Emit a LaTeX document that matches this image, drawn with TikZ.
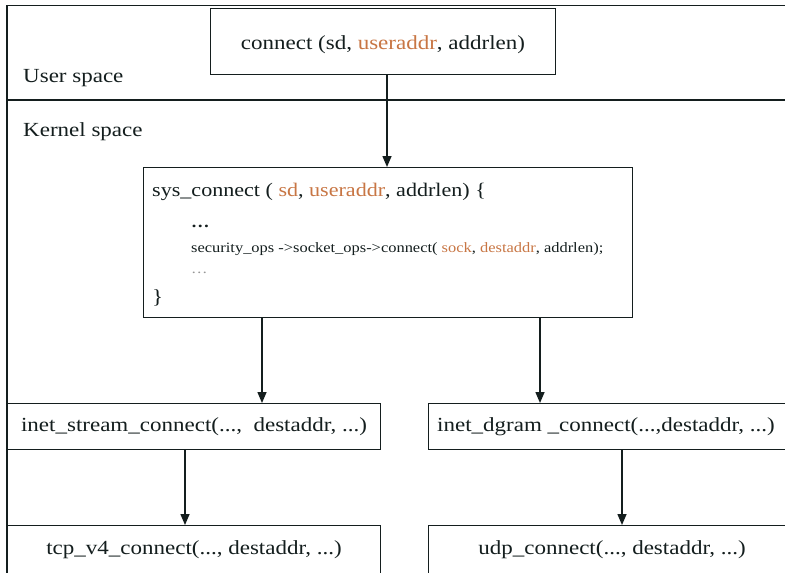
\documentclass[tikz,border=0pt]{standalone}
\usepackage{fontspec}
\setmainfont{Liberation Serif}
\newfontfamily\wf{Liberation Serif}[FakeStretch=1.15]
\usetikzlibrary{arrows.meta}
\definecolor{org}{RGB}{200,118,68}
\definecolor{ink}{RGB}{20,30,30}
\definecolor{dots}{RGB}{150,150,150}
\tikzset{
  box/.style={draw=ink, line width=1.1pt, rectangle, anchor=north west, inner sep=0pt,
    font=\wf\fontsize{20}{24}\selectfont, text=ink},
  lbl/.style={anchor=west, inner sep=0pt, font=\wf\fontsize{20}{24}\selectfont, text=ink},
  code/.style={anchor=west, inner sep=0pt, font=\wf\fontsize{14.3}{17}\selectfont, text=ink},
  arr/.style={draw=ink, line width=1.5pt, -{Triangle[length=11pt,width=9pt]}},
  frame/.style={draw=ink, line width=1.1pt},
  sep/.style={draw=ink, line width=2pt}
}
\begin{document}
\begin{tikzpicture}[x=1pt,y=-1pt]
\useasboundingbox (0,0) rectangle (785,573);
\clip (0,0) rectangle (785,573);
\fill[white] (0,0) rectangle (785,573);
% frame
\coordinate (ftl) at (7,5.5);
\coordinate (ftr) at (790,5.5);
\coordinate (fbl) at (7,580);
\draw[frame] (ftr) -- (ftl) -- (fbl);
\coordinate (sl) at (7,100);
\coordinate (sr) at (790,100);
\draw[sep] (sl) -- (sr);
% labels
\node[lbl] (user) at (23,78) {User space};
\node[lbl] (kern) at (23,132) {Kernel space};
% boxes
\node[box, minimum width=345pt, minimum height=66pt] (conn) at (210,8) {};
\node[font=\wf\fontsize{20}{24}\selectfont, text=ink, inner sep=0pt] (conntxt) at (383,45)
  {connect (sd, \textcolor{org}{useraddr}, addrlen)};
\node[box, minimum width=489pt, minimum height=150pt] (sys) at (143,167) {};
\node[lbl, font=\wf\fontsize{19.2}{23}\selectfont] (sys1) at (152,192) {sys\_connect ( \textcolor{org}{sd}, \textcolor{org}{useraddr}, addrlen) \{};
\node[code, font=\wf\fontsize{16}{19}\selectfont] (dot1) at (191,226) {\textbf{\ldots}};
\node[code] (sec) at (191,249) {security\_ops -{>}socket\_ops-{>}connect( \textcolor{org}{sock}, \textcolor{org}{destaddr}, addrlen);};
\node[code, text=dots] (dot2) at (191,273) {\ldots};
\node[lbl] (close) at (152,298) {\}};
\node[box, minimum width=373pt, minimum height=46pt] (stream) at (7,403) {};
\node[font=\wf\fontsize{20}{24}\selectfont, text=ink, inner sep=0pt] (streamtxt) at (194,427)
  {inet\_stream\_connect(...,\ \ destaddr, ...)};
\node[box, minimum width=362pt, minimum height=46pt] (dgram) at (428,403) {};
\node[font=\wf\fontsize{20}{24}\selectfont, text=ink, inner sep=0pt, anchor=west] (dgramtxt) at (437,427)
  {inet\_dgram \_connect(...,destaddr, ...)};
\node[box, minimum width=373pt, minimum height=48pt] (tcp) at (7,525) {};
\node[font=\wf\fontsize{20}{24}\selectfont, text=ink, inner sep=0pt] (tcptxt) at (194,550)
  {tcp\_v4\_connect(..., destaddr, ...)};
\node[box, minimum width=362pt, minimum height=48pt] (udp) at (428,525) {};
\node[font=\wf\fontsize{20}{24}\selectfont, text=ink, inner sep=0pt] (udptxt) at (612,550)
  {udp\_connect(..., destaddr, ...)};
% arrows
\coordinate (xa) at (387,0);
\coordinate (xb) at (262,0);
\coordinate (xc) at (540,0);
\coordinate (xd) at (185,0);
\coordinate (xe) at (622,0);
\draw[arr] (xa |- conn.south) -- (xa |- sys.north);
\draw[arr] (xb |- sys.south) -- (xb |- stream.north);
\draw[arr] (xc |- sys.south) -- (xc |- dgram.north);
\draw[arr] (xd |- stream.south) -- (xd |- tcp.north);
\draw[arr] (xe |- dgram.south) -- (xe |- udp.north);
\end{tikzpicture}
\end{document}
